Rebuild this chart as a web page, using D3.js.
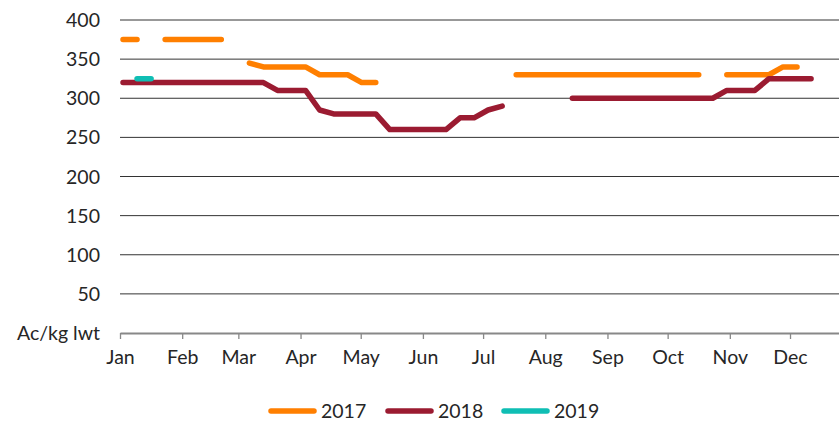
<!DOCTYPE html>
<html>
<head>
<meta charset="utf-8">
<script src="https://cdn.jsdelivr.net/npm/d3@7"></script>
<style>
  html, body { margin: 0; padding: 0; background: #fff; }
  svg { display: block; }
  text { font-family: Lato, "Open Sans", sans-serif; fill: #262626; }
</style>
</head>
<body>
<svg id="chart" width="839" height="421"></svg>
<script>
// Weekly price series, c/kg liveweight (null = no quote that week)
const months = ["Jan","Feb","Mar","Apr","May","Jun","Jul","Aug","Sep","Oct","Nov","Dec"];
const yTicks = [0, 50, 100, 150, 200, 250, 300, 350, 400];
const yUnitLabel = "Ac/kg lwt";
const seriesNames = ["2017", "2018", "2019"];
const seriesColors = ["#FF7F00", "#9B1B31", "#0FBEB4"];

const weeks = d3.range(52); // week index 0..51

const v2017 = [
  375, 375, null, 375, 375, 375, 375, 375, null, 345,
  340, 340, 340, 340, 330, 330, 330, 320, 320, null,
  null, null, null, null, null, null, null, null, 330, 330,
  330, 330, 330, 330, 330, 330, 330, 330, 330, 330,
  330, 330, null, 330, 330, 330, 330, 340, 340, null,
  null, null
];
const v2018 = [
  320, 320, 320, 320, 320, 320, 320, 320, 320, 320,
  320, 310, 310, 310, 285, 280, 280, 280, 280, 260,
  260, 260, 260, 260, 275, 275, 285, 290, null, null,
  null, null, 300, 300, 300, 300, 300, 300, 300, 300,
  300, 300, 300, 310, 310, 310, 325, 325, 325, 325,
  null, null
];
const v2019 = [
  null, 325, 325, null, null, null, null, null, null, null,
  null, null, null, null, null, null, null, null, null, null,
  null, null, null, null, null, null, null, null, null, null,
  null, null, null, null, null, null, null, null, null, null,
  null, null, null, null, null, null, null, null, null, null,
  null, null
];
const seriesValues = [v2017, v2018, v2019];

const svg = d3.select("#chart");
const yearStart = new Date(2018, 0, 1);
const yearEnd = new Date(2019, 0, 1);
const plotLeft = 120, plotBottom = 333, plotTop = 20;
const x = d3.scaleTime().domain([yearStart, yearEnd]).range([plotLeft, 852.2]);
const y = d3.scaleLinear().domain([0, 400]).range([plotBottom, plotTop]);

// each weekly quote sits a day and a half into its week
const weekDate = k => new Date(yearStart.getTime() + (1.5 + 7 * k) * 864e5);

// horizontal gridlines
svg.append("g")
  .selectAll("line")
  .data(yTicks.filter(t => t > 0))
  .join("line")
  .attr("x1", plotLeft).attr("x2", 839)
  .attr("y1", d => y(d)).attr("y2", d => y(d))
  .attr("stroke", "#333").attr("stroke-width", 1);

// y tick labels
svg.append("g")
  .selectAll("text")
  .data(yTicks)
  .join("text")
  .attr("x", 100)
  .attr("y", d => y(d))
  .attr("dy", "0.36em")
  .attr("text-anchor", "end")
  .attr("font-size", 19.5)
  .text(d => d === 0 ? yUnitLabel : d);

// x axis with month ticks
const monthStarts = d3.timeMonth.range(yearStart, yearEnd);
const xAxis = d3.axisBottom(x)
  .tickValues(monthStarts)
  .tickFormat((d, i) => months[i])
  .tickSize(6)
  .tickSizeOuter(0);
const gx = svg.append("g").attr("transform", `translate(0,${plotBottom})`).call(xAxis);
gx.select(".domain").attr("stroke", "#888").attr("stroke-width", 2);
gx.selectAll(".tick line").attr("stroke", "#888").attr("stroke-width", 1.3);
gx.selectAll(".tick text")
  .attr("font-size", 19.5)
  .attr("font-family", "Lato, 'Open Sans', sans-serif")
  .attr("fill", "#262626")
  .attr("y", 17)
  .attr("dy", "0.71em");

// series lines
const line = d3.line()
  .defined(d => d.v != null)
  .x(d => x(weekDate(d.k)))
  .y(d => y(d.v));

svg.append("g")
  .selectAll("path")
  .data(seriesValues)
  .join("path")
  .attr("d", vals => line(weeks.map(k => ({ k, v: vals[k] }))))
  .attr("fill", "none")
  .attr("stroke", (d, i) => seriesColors[i])
  .attr("stroke-width", 5.5)
  .attr("stroke-linecap", "round")
  .attr("stroke-linejoin", "round");

// legend
const legendX = [271, 388, 504];
const legend = svg.append("g");
seriesNames.forEach((name, i) => {
  legend.append("line")
    .attr("x1", legendX[i]).attr("x2", legendX[i] + 43)
    .attr("y1", 411).attr("y2", 411)
    .attr("stroke", seriesColors[i])
    .attr("stroke-width", 5.5)
    .attr("stroke-linecap", "round");
  legend.append("text")
    .attr("x", legendX[i] + 50)
    .attr("y", 417.5)
    .attr("font-size", 19.5)
    .text(name);
});
</script>
</body>
</html>
